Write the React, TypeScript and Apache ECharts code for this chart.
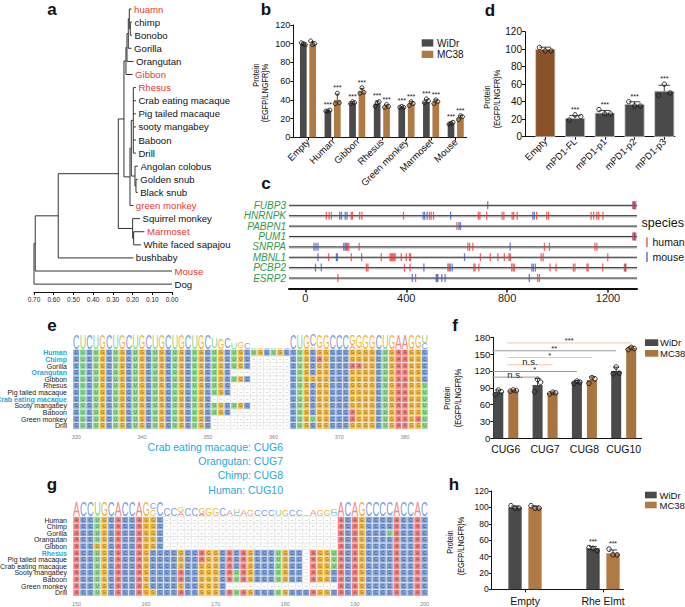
import React, { useEffect, useRef } from 'react';
import * as echarts from 'echarts';

const FONT = "'Liberation Sans', Arial, Helvetica, sans-serif";
const RED = '#e8392e';
const CYAN = '#27a6de';
const DARK = '#4a4a4a';
const TAN = '#b07a45';

// ---------------- a: tree ----------------
const leafNames = ['huamn', 'chimp', 'Bonobo', 'Gorilla', 'Orangutan', 'Gibbon', 'Rhesus', 'Crab eating macaque', 'Pig tailed macaque', 'sooty mangabey', 'Baboon', 'Drill', 'Angolan colobus', 'Golden snub', 'Black snub', 'green monkey', 'Squirrel monkey', 'Marmoset', 'White faced sapajou', 'bushbaby', 'Mouse', 'Dog'];
const leafTips = [0.205, 0.203, 0.203, 0.205, 0.195, 0.2, 0.183, 0.183, 0.183, 0.183, 0.183, 0.183, 0.173, 0.174, 0.174, 0.196, 0.162, 0.14, 0.157, 0.196, 0, 0];
const redLeaves = ['huamn', 'Gibbon', 'Rhesus', 'green monkey', 'Marmoset', 'Mouse'];
const nodeNames = ['N10', 'N9', 'N8', 'N7', 'Apes', 'Papionini', 'N14', 'N13', 'N11', 'OWM', 'N4', 'N6', 'N5', 'N3', 'N2', 'N1', 'Root'];
const nodeChildren = [['chimp', 'Bonobo'], ['huamn', 'N10'], ['N9', 'Gorilla'], ['N8', 'Orangutan'], ['N7', 'Gibbon'], ['Rhesus', 'Crab eating macaque', 'Pig tailed macaque', 'sooty mangabey', 'Baboon', 'Drill'], ['Golden snub', 'Black snub'], ['Angolan colobus', 'N14'], ['Papionini', 'N13'], ['N11', 'green monkey'], ['Apes', 'OWM'], ['Marmoset', 'White faced sapajou'], ['Squirrel monkey', 'N6'], ['N4', 'N5'], ['bushbaby', 'N3'], ['Mouse', 'N2'], ['Dog', 'N1']];
const nodeHeights = [0.2115, 0.2166, 0.2217, 0.2284, 0.2335, 0.1963, 0.1827, 0.1878, 0.2064, 0.2132, 0.2437, 0.1946, 0.1997, 0.2724, 0.577, 0.6937, 0.7];

// ---------------- b ----------------
const bCats = ['Empty', 'Human', 'Gibbon', 'Rhesus', 'Green monkey', 'Marmoset', 'Mouse'];
const bWiDr = [100, 28, 37, 36, 32, 38, 15];
const bMC38 = [100, 40, 49, 33, 36, 38, 21];
const bWiDrPts = [[101, 99, 100], [28, 29, 28], [36, 37, 38], [33, 38, 37], [32, 32, 33], [37, 39, 41], [14, 16, 15]];
const bMC38Pts = [[103, 100, 99], [36, 37, 47], [47, 48, 53], [32, 33, 35], [34, 36, 38], [36, 38, 40], [19, 22, 23]];
const bWiDrSig = ['', '***', '***', '***', '***', '***', '***'];
const bMC38Sig = ['', '***', '***', '***', '***', '***', '***'];

// ---------------- d ----------------
const dCats = ['Empty', 'mPD1-FL', 'mPD1-p1', 'mPD1-p2', 'mPD1-p3'];
const dVals = [100, 21, 27, 37, 52];
const dPts = [[102, 98, 98], [19, 23, 25], [31, 26, 26], [40, 35, 35], [47, 50, 60]];
const dSig = ['', '***', '***', '***', '***'];

// ---------------- c ----------------
const genes = ['FUBP3', 'HNRNPK', 'PABPN1', 'PUM1', 'SNRPA', 'MBNL1', 'PCBP2', 'ESRP2'];
const humanSites = [
  [1298, 1302, 1306, 1310],
  [83, 94, 103, 182, 187, 215, 224, 389, 492, 499, 508, 686, 692, 719, 780, 787, 820, 826, 840, 917, 957, 964, 1133, 1143, 1156, 1163, 1180],
  [601],
  [1298, 1302, 1306, 1310],
  [162, 172, 213, 644, 651, 664, 948, 968, 1148, 1156],
  [92, 182, 301, 336, 340, 344, 348, 352, 356, 380, 400, 413, 417, 694, 733, 763, 789, 808, 813, 935, 943, 1199],
  [242, 248, 393, 415, 565, 570, 668, 673, 688, 818, 824, 829, 970, 994, 1063, 1069, 1117, 1121, 1179, 1265, 1271],
  [129, 437, 523, 921, 928],
];
const mouseSites = [
  [723, 1304],
  [136, 143, 158, 165, 467, 473, 483, 576, 902, 908],
  [609, 615],
  [1305],
  [34, 42, 50, 152, 158, 166, 812],
  [50, 123, 127, 223, 631],
  [40, 63, 470, 574, 582, 898, 904, 912, 1269],
  [424, 519, 525, 541, 554, 888],
];
const cTicks = [0, 400, 800, 1200];
const C_MIN = -65;
const C_MAX = 1315;

// ---------------- e ----------------
const eStart = 330;
const eTicks = [330, 340, 350, 360, 370, 380];
const eSpecies = ['Human', 'Chimp', 'Gorilla', 'Orangutan', 'Gibbon', 'Rhesus', 'Pig tailed macaque', 'Crab eating macaque', 'Sooty mangabey', 'Baboon', 'Green monkey', 'Drill'];
const eHighlight = ['Human', 'Chimp', 'Orangutan', 'Crab eating macaque'];
const eSeqs = [
  'CUCUGCUGCUGCUGCUGCUGC' + 'UGCUGCUGCUGC' + 'CUGCGGCCCGGGGCUGAAGGC',
  'CUCUGCUGCUGCUGCUGCUGC' + 'UGCUGC' + '-'.repeat(6) + 'CUGCAGCCCGGGGCUGAAGGC',
  'CUCUGCUGCUGCUGCUGCUGC' + 'UGCUGC' + '-'.repeat(6) + 'CUGCGGCCCAAGGCUGAAGGC',
  'CUCUGCUGCUGCUGCUGCUGC' + 'UGC' + '-'.repeat(9) + 'CUGCGGCCCGGGGCUGAAGGC',
  'CUCUGCUGCUGCUGCUGCUGC' + 'UGCUGC' + '-'.repeat(6) + 'CUGGGGCCCGGGGCUGAAGGC',
  'CUCUGCUGCUGCUGCUGCUGC' + 'UGC' + '-'.repeat(9) + 'CUGCGGCCCGGGGCUGAAGGU',
  'CUCUGCUGCUGCUGCUGCUGC' + 'UGC' + '-'.repeat(9) + 'CUGCGGCCCGGGGCUGAAGGU',
  'CUCUGCUGCUGCUGCUGCUGC' + '-'.repeat(12) + 'CUGCGGCCCGGGGCUGAAGGU',
  'CUCUGCUGCUGCUGCUGCUGC' + 'UGCUGC' + '-'.repeat(6) + 'CUGCGGCCCGGGGCUGAAGGU',
  'CUCUGCUGCUGCUGCUGCUGC' + 'UGC' + '-'.repeat(9) + 'CUGCGGCCCAGGGCUGAAGGU',
  'CUCUGCUGCUGCUGCUGCUGC' + '-'.repeat(12) + 'CUGUGGCCCAGGGCUGAAGAU',
  'CUCUGCUGCUGCUGCUGCUGC' + '-'.repeat(12) + 'CUGCGGCCCGGGGCUGAAGGU',
];
const eCaptions = ['Crab eating macaque: CUG6', 'Orangutan: CUG7', 'Chimp: CUG8', 'Human: CUG10'];

// ---------------- g ----------------
const gStart = 150;
const gTicks = [150, 160, 170, 180, 190, 200];
const gSpecies = ['Human', 'Chimp', 'Gorilla', 'Orangutan', 'Gibbon', 'Rhesus', 'Pig tailed macaque', 'Crab eating macaque', 'Sooty mangabey', 'Baboon', 'Green monkey', 'Drill'];
const gHighlight = ['Rhesus'];
const gSeqs = [
  'ACCUGCACCAG' + 'GC' + '-'.repeat(25) + 'ACAGCCCCACCAC',
  'ACCUGCACCAG' + 'GC' + '-'.repeat(25) + 'ACAGCCCCACCAC',
  'ACCUGCACCAG' + 'GC' + '-'.repeat(25) + 'ACAGCCCUACCAC',
  'ACCUGCACCAG' + 'GC' + '-'.repeat(25) + 'ACAGCCCCACCAC',
  'ACCGGCACCAG' + 'GC' + '-'.repeat(25) + 'ACAGCCCCACCAC',
  'ACCUGCACCAG' + 'CCCCGCCAGGCACAGCCCUGCC-AGGU' + 'ACAGCCCCACCAC',
  'ACCUGCACCAG' + 'CCCCGCCAGGCACAGCCCUGCC-AGGU' + 'ACAGCCCCACCAC',
  'ACCUGCACCAG' + 'CCCCGCCGGGCACAGCCCUGCC-AGGU' + 'ACAGCCCCACCAC',
  'ACCUGCACCAG' + 'CCCCACCGGGCAUAGCCCUGCC-AGGC' + 'ACAGCCCCACCAC',
  'ACCUGCACCAG' + 'CCCCACCGGGCAUAGCCCUGCC-AGGC' + 'ACAGCCCCACCAC',
  'ACCUGCACCAG' + 'CCCCGCCGGGC' + '-'.repeat(16) + 'ACAGCCCCACCAC',
  'ACCUGCACCAG' + 'GCCCACCGGGCAUAGCCCUGCCCAGGC' + 'ACAGCCCCACCAC',
];

// ---------------- f ----------------
const fCats = ['CUG6', 'CUG7', 'CUG8', 'CUG10'];
const fWiDr = [82, 95, 101, 120];
const fMC38 = [85, 81, 104, 161];
const fWiDrPts = [[78, 83, 86], [83, 100, 105], [98, 100, 102], [115, 116, 127]];
const fMC38Pts = [[84, 85, 86], [79, 81, 82], [98, 106, 108], [158, 160, 162]];
const fSigText = ['***', '**', '*', 'n.s.', '*', 'n.s.'];
const fSigLevel = [170, 156, 144, 131, 119, 109];
const fSigFrom = [0, 0, 0, 0, 0, 0];
const fSigTo = [3, 3, 2, 1, 2, 1];
const fSigGroup = [1, 0, 1, 1, 0, 0];

// ---------------- h ----------------
const hCats = ['Empty', 'Rhe Elmt'];
const hWiDr = [100, 50];
const hMC38 = [100, 44];
const hWiDrPts = [[102, 99, 99], [51, 47, 50]];
const hMC38Pts = [[102, 99, 99], [49, 42, 42]];
const hWiDrSig = ['', '***'];
const hMC38Sig = ['', '***'];

// ---------------- helpers ----------------
const CELL: Record<string, string> = { A: '#f27f7f', C: '#7f9fd6', G: '#f2bb48', U: '#8ed890', '-': '#ffffff' };
const LOGO: Record<string, string> = { A: '#f08585', C: '#7d9ed8', G: '#f2b43a', U: '#8cd48c' };
const GLYPH_W: Record<string, number> = { A: 0.667, C: 0.722, G: 0.778, U: 0.722 };

function sd(a: number[]) {
  const m = a.reduce((s, v) => s + v, 0) / a.length;
  return Math.sqrt(a.reduce((s, v) => s + (v - m) * (v - m), 0) / (a.length - 1));
}

function buildTree() {
  const pos: Record<string, { x: number; y: number }> = {};
  leafNames.forEach((n, i) => (pos[n] = { x: leafTips[i], y: i }));
  const segs: number[][] = [];
  nodeNames.forEach((n, k) => {
    const ch = nodeChildren[k].map((c) => pos[c]);
    const h = nodeHeights[k];
    const ys = ch.map((c) => c.y);
    const y = ys.reduce((a, b) => a + b, 0) / ys.length;
    segs.push([h, Math.min(...ys), h, Math.max(...ys)]);
    ch.forEach((c) => segs.push([h, c.y, c.x, c.y]));
    pos[n] = { x: h, y };
  });
  return segs;
}

function barSeries(grid: number, vals: number[], pts: number[][], sig: string[], off: number, w: number, fill: string | string[], border: string, r: number) {
  return {
    type: 'custom',
    xAxisIndex: grid,
    yAxisIndex: grid,
    clip: false,
    data: vals.map((v, i) => [i, v]),
    encode: { x: 0, y: 1 },
    renderItem: (params: any, api: any) => {
      const i = params.dataIndex;
      const v = api.value(1);
      const base = api.coord([api.value(0), 0]);
      const top = api.coord([api.value(0), v]);
      const cx = base[0] + off;
      const e = sd(pts[i]);
      const eTop = api.coord([0, v + e])[1];
      const children: any[] = [];
      children.push({
        type: 'rect',
        shape: { x: cx - w / 2, y: top[1], width: w, height: base[1] - top[1] },
        style: { fill: Array.isArray(fill) ? fill[i] : fill, stroke: border, lineWidth: border === 'none' ? 0 : 0.8 },
      });
      children.push({ type: 'line', shape: { x1: cx, y1: top[1], x2: cx, y2: eTop }, style: { stroke: '#111', lineWidth: 0.8 } });
      children.push({ type: 'line', shape: { x1: cx - w * 0.3, y1: eTop, x2: cx + w * 0.3, y2: eTop }, style: { stroke: '#111', lineWidth: 0.8 } });
      const jit = [-0.3, 0.3, 0];
      pts[i].forEach((p, k) => {
        const c = api.coord([0, p]);
        children.push({ type: 'circle', shape: { cx: cx + jit[k] * w, cy: c[1], r }, style: { fill: 'none', stroke: '#1a1a1a', lineWidth: 0.9 } });
      });
      if (sig[i]) {
        const mx = Math.max(v + e, ...pts[i]);
        const c = api.coord([0, mx]);
        children.push({ type: 'text', x: cx, y: c[1] - 2, style: { text: sig[i], fontSize: 7, fontFamily: FONT, fill: '#111', align: 'center', verticalAlign: 'bottom' } });
      }
      return { type: 'group', children };
    },
  };
}

function alignSeries(grid: number, start: number, seqs: string[]) {
  const data: number[][] = [];
  const chars: string[] = [];
  seqs.forEach((s, r) => {
    for (let j = 0; j < s.length; j++) {
      data.push([start + j, r]);
      chars.push(s[j]);
    }
  });
  return {
    type: 'custom',
    xAxisIndex: grid,
    yAxisIndex: grid,
    clip: false,
    data,
    encode: { x: 0, y: 1 },
    renderItem: (params: any, api: any) => {
      const ch = chars[params.dataIndex];
      const c = api.coord([api.value(0), api.value(1)]);
      const s = api.size([1, 1]);
      const gap = ch === '-';
      return {
        type: 'group',
        children: [
          { type: 'rect', shape: { x: c[0] - s[0] / 2, y: c[1] - s[1] / 2, width: s[0], height: s[1] }, style: { fill: CELL[ch], stroke: gap ? '#dddddd' : '#ffffff', lineWidth: 0.5 } },
          { type: 'text', x: c[0], y: c[1], style: { text: gap ? '–' : ch, fontSize: 4.5, fontFamily: FONT, fill: gap ? '#999' : 'rgba(30,30,30,0.6)', align: 'center', verticalAlign: 'middle' } },
        ],
      };
    },
  };
}

function logoSeries(grid: number, start: number, seqs: string[]) {
  const n = seqs.length;
  const L = seqs[0].length;
  return {
    type: 'custom',
    xAxisIndex: grid,
    yAxisIndex: grid,
    clip: false,
    data: Array.from({ length: L }, (_, j) => [start + j, -0.5]),
    encode: { x: 0, y: 1 },
    renderItem: (params: any, api: any) => {
      const j = params.dataIndex;
      const counts: Record<string, number> = {};
      seqs.forEach((s) => {
        const ch = s[j];
        if (ch !== '-') counts[ch] = (counts[ch] || 0) + 1;
      });
      const ent = Object.entries(counts).sort((a, b) => a[1] - b[1]);
      const base = api.coord([api.value(0), api.value(1)]);
      const cw = api.size([1, 0])[0];
      let y = base[1] - 0.5;
      const fs = 10;
      const kids: any[] = [];
      ent.forEach(([ch, k]) => {
        const h = (k / n) * 14;
        kids.push({
          type: 'text',
          x: base[0],
          y: y - h / 2,
          scaleX: (cw * 0.98) / (GLYPH_W[ch] * fs),
          scaleY: h / (0.716 * fs),
          style: { text: ch, fontSize: fs, fontFamily: FONT, fill: LOGO[ch], align: 'center', verticalAlign: 'middle' },
        });
        y -= h;
      });
      return { type: 'group', children: kids };
    },
  };
}

function rowLabelSeries(grid: number, start: number, names: string[], hi: string[]) {
  return {
    type: 'custom',
    xAxisIndex: grid,
    yAxisIndex: grid,
    clip: false,
    data: names.map((_, i) => [start - 0.5, i]),
    encode: { x: 0, y: 1 },
    renderItem: (params: any, api: any) => {
      const nm = names[params.dataIndex];
      const c = api.coord([api.value(0), api.value(1)]);
      const h = hi.includes(nm);
      return { type: 'text', x: c[0] - 6, y: c[1], style: { text: nm, fontSize: 7, fontFamily: FONT, fontWeight: h ? 'bold' : 'normal', fill: h ? CYAN : '#222', align: 'right', verticalAlign: 'middle' } };
    },
  };
}

const T = (x: number, y: number, text: string, o: any = {}, extra: any = {}) => ({
  type: 'text',
  x,
  y,
  silent: true,
  ...extra,
  style: { text, fontFamily: FONT, fontSize: 10, fill: '#111', align: 'left', verticalAlign: 'middle', ...o },
});
const R = (x: number, y: number, w: number, h: number, fill: string) => ({ type: 'rect', silent: true, shape: { x, y, width: w, height: h }, style: { fill } });
const L = (x1: number, y1: number, x2: number, y2: number, stroke: string, lw = 1.2) => ({ type: 'line', silent: true, shape: { x1, y1, x2, y2 }, style: { stroke, lineWidth: lw } });
const VT = (x: number, y: number, text: string) => T(x, y, text, { fontSize: 9, align: 'center' }, { rotation: Math.PI / 2, scaleX: 0.82 });

const axLine = { show: true, onZero: false, lineStyle: { color: '#111', width: 1 } };
const noSplit = { show: false };

function buildOption() {
  const segs = buildTree();
  const marks: number[][] = [];
  humanSites.forEach((arr, g) => arr.forEach((p) => marks.push([p, g, 0])));
  mouseSites.forEach((arr, g) => arr.forEach((p) => marks.push([p, g, 1])));

  const barY = (grid: number, max: number, interval: number, fs: number) => ({
    gridIndex: grid,
    type: 'value',
    min: 0,
    max,
    interval,
    axisLine: axLine,
    axisTick: { show: true, length: 3, lineStyle: { color: '#111' } },
    axisLabel: { fontSize: fs, margin: 3, color: '#111', fontFamily: FONT },
    splitLine: noSplit,
  });
  const catX = (grid: number, min: number, max: number, cats: string[], o: any) => ({
    gridIndex: grid,
    type: 'value',
    min,
    max,
    axisLine: axLine,
    axisTick: { show: o.tick !== false, length: 3, lineStyle: { color: '#111' }, customValues: cats.map((_, i) => i) },
    axisLabel: { customValues: cats.map((_, i) => i), formatter: (v: number) => cats[Math.round(v)] ?? '', rotate: o.rotate || 0, fontSize: o.fs, margin: o.margin, color: '#111', fontFamily: FONT },
    splitLine: noSplit,
  });

  return {
    animation: false,
    backgroundColor: '#ffffff',
    textStyle: { fontFamily: FONT },
    grid: [
      { left: 34, top: 9, width: 138, height: 283 },
      { left: 293.3, top: 25, width: 173.4, height: 112.3 },
      { left: 525, top: 31.7, width: 150, height: 105 },
      { left: 289, top: 200.1, width: 348, height: 88.3 },
      { left: 73, top: 349.4, width: 355, height: 79.7 },
      { left: 493.3, top: 337.3, width: 148.4, height: 101 },
      { left: 73, top: 516.7, width: 355, height: 80 },
      { left: 491.7, top: 491, width: 131.6, height: 98.3 },
    ],
    xAxis: [
      {
        gridIndex: 0, type: 'value', min: 0, max: 0.7, interval: 0.1, inverse: true,
        axisLine: axLine, axisTick: { show: true, length: 3, lineStyle: { color: '#111' } },
        axisLabel: { fontSize: 6.5, color: '#222', margin: 4, formatter: (v: number) => v.toFixed(2) },
        splitLine: noSplit,
      },
      catX(1, -0.597, 6.446, bCats, { rotate: 45, fs: 9.5, margin: 3 }),
      catX(2, -0.682, 4.36, dCats, { rotate: 45, fs: 9.5, margin: 3 }),
      {
        gridIndex: 3, type: 'value', min: C_MIN, max: C_MAX,
        axisLine: { show: true, onZero: false, lineStyle: { color: '#111', width: 2 } },
        axisTick: { show: true, length: 4, customValues: cTicks, lineStyle: { color: '#111', width: 1.5 } },
        axisLabel: { customValues: cTicks, fontSize: 11, margin: 4, color: '#222', formatter: (v: number) => String(Math.round(v)) },
        splitLine: noSplit,
      },
      {
        gridIndex: 4, type: 'value', min: eStart - 0.5, max: eStart + eSeqs[0].length - 0.5,
        axisLine: { show: false, onZero: false }, axisTick: { show: false },
        axisLabel: { customValues: eTicks, fontSize: 5.5, color: '#888', margin: 5 }, splitLine: noSplit,
      },
      catX(5, -0.318, 3.458, fCats, { tick: false, fs: 10.5, margin: 5 }),
      {
        gridIndex: 6, type: 'value', min: gStart - 0.5, max: gStart + gSeqs[0].length - 0.5,
        axisLine: { show: false, onZero: false }, axisTick: { show: false },
        axisLabel: { customValues: gTicks, fontSize: 5.5, color: '#888', margin: 5 }, splitLine: noSplit,
      },
      catX(7, -0.427, 1.26, hCats, { fs: 10.5, margin: 6 }),
    ],
    yAxis: [
      { gridIndex: 0, type: 'value', min: 0, max: 21.6, inverse: true, show: false, axisLine: { onZero: false } },
      barY(1, 120, 20, 9),
      barY(2, 120, 20, 10),
      { gridIndex: 3, type: 'value', min: -0.5, max: 8, inverse: true, show: false, axisLine: { onZero: false } },
      { gridIndex: 4, type: 'value', min: -0.5, max: 11.5, inverse: true, show: false, axisLine: { onZero: false } },
      barY(5, 180, 30, 9.5),
      { gridIndex: 6, type: 'value', min: -0.5, max: 11.5, inverse: true, show: false, axisLine: { onZero: false } },
      barY(7, 120, 20, 8.5),
    ],
    series: [
      // a: tree
      {
        type: 'custom', xAxisIndex: 0, yAxisIndex: 0, clip: false, data: segs, encode: { x: [0, 2], y: [1, 3] },
        renderItem: (params: any, api: any) => {
          const p1 = api.coord([api.value(0), api.value(1)]);
          const p2 = api.coord([api.value(2), api.value(3)]);
          return { type: 'line', shape: { x1: p1[0], y1: p1[1], x2: p2[0], y2: p2[1] }, style: { stroke: '#333', lineWidth: 1 } };
        },
      },
      {
        type: 'custom', xAxisIndex: 0, yAxisIndex: 0, clip: false, data: leafTips.map((t, i) => [t, i]), encode: { x: 0, y: 1 },
        renderItem: (params: any, api: any) => {
          const nm = leafNames[params.dataIndex];
          const c = api.coord([api.value(0), api.value(1)]);
          return { type: 'text', x: c[0] + 2.5, y: c[1], style: { text: nm, fontSize: 9.6, fontFamily: FONT, fill: redLeaves.includes(nm) ? RED : '#111', align: 'left', verticalAlign: 'middle' } };
        },
      },
      // b
      barSeries(1, bWiDr, bWiDrPts, bWiDrSig, -4.7, 6.7, DARK, 'none', 2),
      barSeries(1, bMC38, bMC38Pts, bMC38Sig, 4.7, 6.7, TAN, 'none', 2),
      // d
      barSeries(2, dVals, dPts, dSig, 0, 19.3, ['#8a5228', DARK, DARK, DARK, DARK], '#cfcfcf', 2.2),
      // c: gene lines and labels
      {
        type: 'custom', xAxisIndex: 3, yAxisIndex: 3, clip: false, data: genes.map((_, i) => [C_MIN, i]), encode: { x: 0, y: 1 },
        renderItem: (params: any, api: any) => {
          const a = api.coord([C_MIN, api.value(1)]);
          const b = api.coord([C_MAX, api.value(1)]);
          return {
            type: 'group',
            children: [
              { type: 'line', shape: { x1: a[0], y1: a[1] + 0.8, x2: b[0], y2: b[1] + 0.8 }, style: { stroke: '#cccccc', lineWidth: 2 } },
              { type: 'line', shape: { x1: a[0], y1: a[1], x2: b[0], y2: b[1] }, style: { stroke: '#333', lineWidth: 1 } },
              { type: 'text', x: a[0] - 3, y: a[1], style: { text: genes[params.dataIndex], fontSize: 10, fontStyle: 'italic', fontFamily: FONT, fill: '#2f9a4c', align: 'right', verticalAlign: 'middle' } },
            ],
          };
        },
      },
      {
        type: 'custom', xAxisIndex: 3, yAxisIndex: 3, clip: false, data: marks, encode: { x: 0, y: 1 },
        renderItem: (params: any, api: any) => {
          const c = api.coord([api.value(0), api.value(1)]);
          const sp = api.value(2);
          return { type: 'rect', shape: { x: c[0] - 0.65, y: c[1] - 4, width: 1.3, height: 8 }, style: { fill: sp === 0 ? '#e53935' : '#3f55b8', opacity: 0.75 } };
        },
      },
      // e
      alignSeries(4, eStart, eSeqs),
      logoSeries(4, eStart, eSeqs),
      rowLabelSeries(4, eStart, eSpecies, eHighlight),
      // g
      alignSeries(6, gStart, gSeqs),
      logoSeries(6, gStart, gSeqs),
      rowLabelSeries(6, gStart, gSpecies, gHighlight),
      // f
      barSeries(5, fWiDr, fWiDrPts, ['', '', '', ''], -7.5, 10, DARK, 'none', 2.3),
      barSeries(5, fMC38, fMC38Pts, ['', '', '', ''], 7.5, 10, '#a8743f', 'none', 2.3),
      {
        type: 'custom', xAxisIndex: 5, yAxisIndex: 5, clip: false,
        data: fSigLevel.map((l, i) => [fSigFrom[i], l, fSigTo[i]]), encode: { x: [0, 2], y: 1 },
        renderItem: (params: any, api: any) => {
          const i = params.dataIndex;
          const off = fSigGroup[i] ? 7.5 : -7.5;
          const a = api.coord([api.value(0), api.value(1)]);
          const b = api.coord([api.value(2), api.value(1)]);
          const x1 = a[0] + off - 6;
          const x2 = b[0] + off;
          const col = fSigGroup[i] ? '#f3c6a8' : '#9a9a9a';
          const ns = fSigText[i] === 'n.s.';
          return {
            type: 'group',
            children: [
              { type: 'line', shape: { x1, y1: a[1], x2, y2: a[1] }, style: { stroke: col, lineWidth: 1 } },
              { type: 'text', x: (x1 + x2) / 2, y: a[1] + 2, style: { text: fSigText[i], fontSize: ns ? 9.5 : 7.5, fontFamily: FONT, fill: '#222', align: 'center', verticalAlign: 'bottom' } },
            ],
          };
        },
      },
      // h
      barSeries(7, hWiDr, hWiDrPts, hWiDrSig, -10, 13.3, DARK, 'none', 2.3),
      barSeries(7, hMC38, hMC38Pts, hMC38Sig, 10, 13.3, TAN, 'none', 2.3),
    ],
    graphic: {
      elements: [
        // panel letters
        T(52, 9, 'a', { fontSize: 17, fontWeight: 'bold', align: 'center' }),
        T(266, 9, 'b', { fontSize: 17, fontWeight: 'bold', align: 'center' }),
        T(490, 10, 'd', { fontSize: 17, fontWeight: 'bold', align: 'center' }),
        T(266, 183, 'c', { fontSize: 17, fontWeight: 'bold', align: 'center' }),
        T(52, 325, 'e', { fontSize: 17, fontWeight: 'bold', align: 'center' }),
        T(455, 325, 'f', { fontSize: 17, fontWeight: 'bold', align: 'center' }),
        T(52, 484, 'g', { fontSize: 17, fontWeight: 'bold', align: 'center' }),
        T(454, 484, 'h', { fontSize: 17, fontWeight: 'bold', align: 'center' }),
        // y titles
        VT(256.5, 75, 'Protein'), VT(265.5, 93, '(EGFP/LNGFR)%'),
        VT(487, 97, 'Protein'), VT(497, 99, '(EGFP/LNGFR)%'),
        VT(447, 398, 'Protein'), VT(458, 398, '(EGFP/LNGFR)%'),
        VT(450, 542, 'Protein'), VT(461, 546, '(EGFP/LNGFR)%'),
        // legends b
        R(421.7, 39.3, 11.6, 7.3, DARK), T(437, 43, 'WiDr'),
        R(421.7, 50.7, 11.6, 7.3, TAN), T(437, 54.5, 'MC38'),
        // legend f
        R(645, 339.3, 13.3, 6.7, DARK), T(660, 342.7, 'WiDr', { fontSize: 9.5 }),
        R(645, 350, 13.3, 6.7, '#a8743f'), T(660, 353.3, 'MC38', { fontSize: 9.5 }),
        // legend h
        R(645, 491.7, 11.7, 6.6, DARK), T(659.5, 495, 'WiDr', { fontSize: 9.5 }),
        R(645, 501.7, 11.7, 6.6, TAN), T(659.5, 505, 'MC38', { fontSize: 9.5 }),
        // legend c
        T(641.5, 223.3, 'species', { fontSize: 12.5 }),
        L(647, 237.3, 647, 247.3, '#e53935'), T(652.5, 242.3, 'human', { fontSize: 10.5 }),
        L(647, 252, 647, 262, '#3f55b8'), T(652.5, 256.7, 'mouse', { fontSize: 10.5 }),
        // e captions
        T(283, 446.7, eCaptions[0], { fontSize: 10.5, fill: CYAN, align: 'right' }),
        T(283, 460.5, eCaptions[1], { fontSize: 10.5, fill: CYAN, align: 'right' }),
        T(283, 475, eCaptions[2], { fontSize: 10.5, fill: CYAN, align: 'right' }),
        T(283, 490, eCaptions[3], { fontSize: 10.5, fill: CYAN, align: 'right' }),
      ],
    },
  };
}

export default function App() {
  const ref = useRef<HTMLDivElement>(null);
  useEffect(() => {
    if (!ref.current) return;
    const chart = echarts.init(ref.current, null, { renderer: 'svg' });
    chart.setOption(buildOption() as any);
    return () => chart.dispose();
  }, []);
  return <div ref={ref} style={{ position: 'absolute', left: 0, top: 0, width: 685, height: 607, background: '#fff' }} />;
}
